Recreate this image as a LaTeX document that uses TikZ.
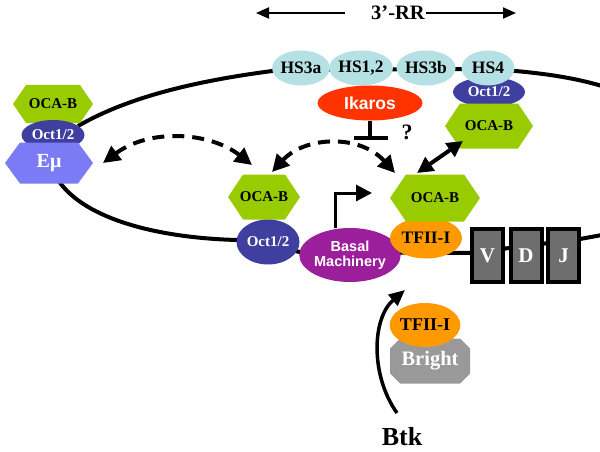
\documentclass[tikz,border=0pt]{standalone}
\usepackage{fontspec}
\setmainfont{Liberation Serif}
\newfontfamily\arialfont{Liberation Sans}
\usetikzlibrary{shapes.geometric,arrows.meta}
\newcommand{\myfs}[1]{\fontsize{#1}{#1}\selectfont}
\definecolor{ocagreen}{HTML}{99CC00}
\definecolor{octblue}{HTML}{3F3FA0}
\definecolor{emublue}{HTML}{7B7BF5}
\definecolor{hsblue}{HTML}{B5E0E4}
\definecolor{ikred}{HTML}{FF3300}
\definecolor{basalpurple}{HTML}{9B1F9B}
\definecolor{tforange}{HTML}{FF9900}
\definecolor{brightgray}{HTML}{999999}
\definecolor{boxgray}{HTML}{6E6E6E}
\tikzset{
  hexa/.style 2 args={inner sep=0pt, outer sep=0pt, path picture={
    \fill[#1] (path picture bounding box.west) -- ([xshift=#2]path picture bounding box.north west)
      -- ([xshift=-#2]path picture bounding box.north east) -- (path picture bounding box.east)
      -- ([xshift=-#2]path picture bounding box.south east) -- ([xshift=#2]path picture bounding box.south west) -- cycle;}},
  octa/.style 2 args={inner sep=0pt, outer sep=0pt, path picture={
    \fill[#1] ([yshift=#2]path picture bounding box.south west) -- ([yshift=-#2]path picture bounding box.north west)
      -- ([xshift=#2]path picture bounding box.north west) -- ([xshift=-#2]path picture bounding box.north east)
      -- ([yshift=-#2]path picture bounding box.north east) -- ([yshift=#2]path picture bounding box.south east)
      -- ([xshift=-#2]path picture bounding box.south east) -- ([xshift=#2]path picture bounding box.south west) -- cycle;}},
  oval/.style={ellipse, inner sep=0pt, outer sep=0pt, fill=#1},
  dna/.style={line width=4pt, black},
  lbl/.style={font=\bfseries\myfs{15}},
  boxv/.style={draw=black, line width=4pt, fill=boxgray, minimum width=31pt, minimum height=53pt, inner sep=0pt, text=white, font=\bfseries\myfs{21}},
  tri/.style={-{Triangle[length=16pt,width=16pt]}},
  dashedarrow/.style={line width=4pt, dash pattern=on 12pt off 8pt, {Triangle[length=17pt,width=17pt]}-{Triangle[length=17pt,width=17pt]}},
}
\begin{document}
\begin{tikzpicture}[x=1pt,y=-1pt]
\useasboundingbox (0,0) rectangle (600,452);
% DNA
\draw[dna] (78,126) .. controls (130,96) and (200,80) .. (280,70) -- (488,69) .. controls (540,72) and (575,78) .. (602,86);
\draw[dna] (58,180) .. controls (85,220) and (160,238) .. (237,240) -- (300,252) -- (470,253) -- (580,239) -- (602,235);

% left stack
\node[hexa={ocagreen}{13pt}, minimum width=80pt, minimum height=38pt, lbl] (ocabL) at (53,104) {OCA-B};
\node[oval=octblue, minimum width=63pt, minimum height=30pt, lbl, text=white] (octL) at (53,135) {Oct1/2};
\node[hexa={emublue}{15pt}, minimum width=88pt, minimum height=41pt, text=white, font=\bfseries\myfs{20}] (emu) at (49,163) {Eμ};

% HS row
\node[oval=hsblue, minimum width=52pt, minimum height=35pt, font=\bfseries\myfs{17.5}] (hsa) at (301,68) {HS3a};
\node[oval=hsblue, minimum width=53pt, minimum height=35pt, font=\bfseries\myfs{17.5}] (hsb) at (361,68) {HS1,2};
\node[oval=hsblue, minimum width=52pt, minimum height=35pt, font=\bfseries\myfs{17.5}] (hsc) at (426,68) {HS3b};
\node[oval=octblue, minimum width=72pt, minimum height=30pt, lbl, text=white] (octR) at (489,92) {Oct1/2};
\node[oval=hsblue, minimum width=53pt, minimum height=35pt, font=\bfseries\myfs{17.5}] (hsd) at (488,68) {HS4};
\node[hexa={ocagreen}{15pt}, minimum width=88pt, minimum height=45pt, lbl] (ocabR) at (489,126) {OCA-B};
\node[oval=ikred, minimum width=105pt, minimum height=35pt, text=white, font=\arialfont\bfseries\myfs{17.5}] (ikaros) at (370,103) {Ikaros};
\node[font=\bfseries\myfs{22}, inner sep=0pt] (q) at (407,132) {?};

% 3'-RR
\node[font=\bfseries\myfs{20.5}, inner sep=0pt] (rr) at (398,13) {3’-RR};
\coordinate (rrl) at (345,13);
\coordinate (rrle) at (256,13);
\coordinate (rrr) at (426,13);
\coordinate (rrre) at (516,13);
\draw[line width=2pt, -{Triangle[length=13pt,width=11pt]}] (rrl) -- (rrle);
\draw[line width=2pt, -{Triangle[length=13pt,width=11pt]}] (rrr) -- (rrre);

% middle
\node[hexa={ocagreen}{15pt}, minimum width=72pt, minimum height=45pt, lbl] (ocabM) at (264,197) {OCA-B};
\node[oval=octblue, minimum width=63pt, minimum height=45pt, lbl, text=white] (octM) at (268,242) {Oct1/2};
\node[oval=basalpurple, minimum width=100pt, minimum height=54pt, text=white, font=\arialfont\bfseries\myfs{14.5}, align=center] (basal) at (350,255) {Basal\\[1pt]Machinery};
\node[oval=tforange, minimum width=72pt, minimum height=41pt, font=\bfseries\myfs{17.5}] (tfiiM) at (426,238) {TFII-I};
\node[hexa={ocagreen}{16pt}, minimum width=90pt, minimum height=47pt, lbl] (ocabT) at (435,198) {OCA-B};

% VDJ
\node[boxv] (V) at (487.5,255.5) {V};
\node[boxv] (D) at (526,255.5) {D};
\node[boxv] (J) at (563.5,255.5) {J};

% bottom
\node[octa={brightgray}{10pt}, minimum width=80pt, minimum height=45pt, text=white, font=\bfseries\myfs{20.5}] (bright) at (430,361) {Bright};
\node[oval=tforange, minimum width=70pt, minimum height=44pt, font=\bfseries\myfs{18}] (tfiiB) at (425,325) {TFII-I};
\node[font=\bfseries\myfs{26}, inner sep=0pt] (btk) at (402,437) {Btk};

% connectors
\draw[line width=3pt, tri] ([xshift=-15pt]basal.north) -- (335,193) -- (372,193);
\draw[line width=4pt] (ikaros.south) -- (370,138);
\draw[line width=4pt] (354,138) -- (388,138);
\draw[dashedarrow] (103,163) .. controls (150,128) and (210,132) .. (252,165);
\draw[dashedarrow] (272,172) .. controls (305,136) and (360,134) .. (395,173);
\draw[line width=4pt, {Triangle[length=16pt,width=16pt]}-{Triangle[length=16pt,width=16pt]}] (417,173) -- (463,141);
\draw[line width=3.5pt, -{Triangle[length=16pt,width=14pt]}] (397,413) .. controls (370,375) and (372,318) .. (405,290);
\end{tikzpicture}
\end{document}
